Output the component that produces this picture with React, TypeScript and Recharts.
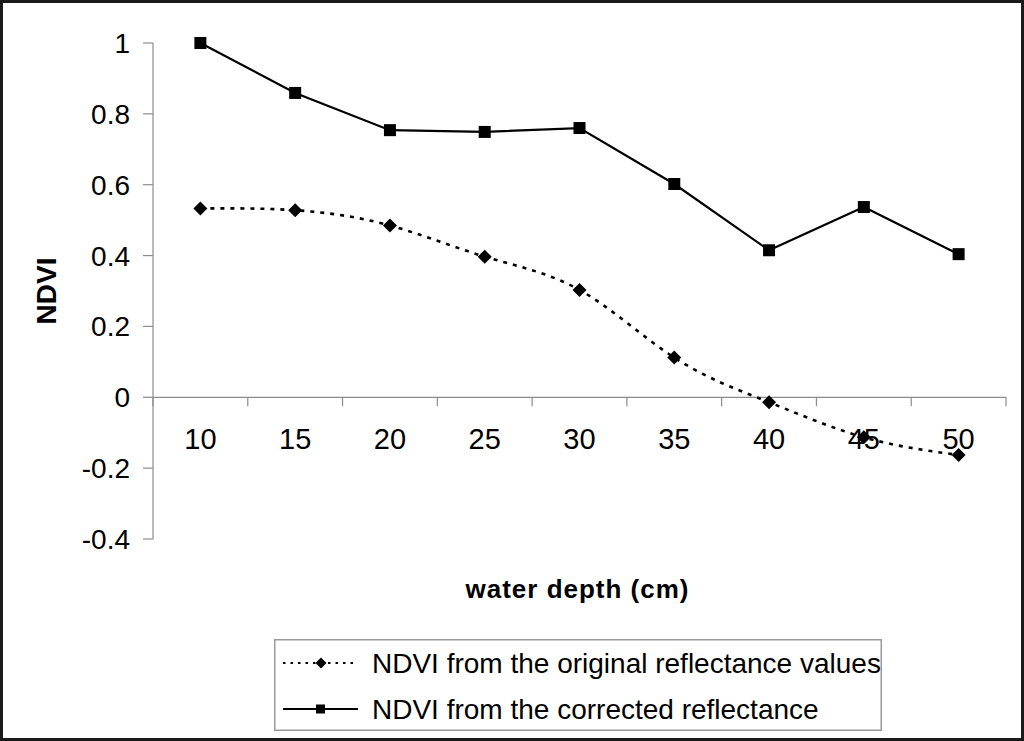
import React from 'react';
import { LineChart, Line, XAxis, YAxis, ReferenceLine, Legend } from 'recharts';

// ---- data ----
const depths = [10, 15, 20, 25, 30, 35, 40, 45, 50];
const ndviOriginal = [0.533, 0.528, 0.485, 0.397, 0.303, 0.112, -0.014, -0.113, -0.163];
const ndviCorrected = [1.0, 0.859, 0.754, 0.749, 0.76, 0.602, 0.415, 0.537, 0.404];
const yTicks = [-0.4, -0.2, 0, 0.2, 0.4, 0.6, 0.8, 1];
const seriesNames = ['NDVI from the original reflectance values', 'NDVI from the corrected reflectance'];
const xTitle = 'water depth (cm)';
const yTitle = 'NDVI';

const data = depths.map((d, i) => ({ depth: String(d), original: ndviOriginal[i], corrected: ndviCorrected[i] }));

// ---- layout ----
const W = 1024;
const H = 741;
const M = { top: 43, right: 18, bottom: 0, left: 0 };
const Y_AXIS_W = 153;
const X_AXIS_H = 202;
const PLOT_LEFT = M.left + Y_AXIS_W;
const PLOT_W = W - PLOT_LEFT - M.right;
const PLOT_H = H - M.top - X_AXIS_H;
const Y_MIN = -0.4;
const Y_MAX = 1;
const ZERO_Y = M.top + (PLOT_H * (Y_MAX - 0)) / (Y_MAX - Y_MIN);
const BAND = PLOT_W / depths.length;
const AXIS = '#8c8c8c';
const FONT = '"Liberation Sans", Arial, sans-serif';

const LEG = { left: 274, top: 639, width: 608, height: 92 };

const XTick = (props: any) => {
  const { x, payload, index } = props;
  const half = BAND / 2;
  return (
    <g>
      <line x1={x - half} x2={x - half} y1={ZERO_Y} y2={ZERO_Y + 9} stroke={AXIS} strokeWidth={1.2} />
      {index === depths.length - 1 && (
        <line x1={x + half} x2={x + half} y1={ZERO_Y} y2={ZERO_Y + 9} stroke={AXIS} strokeWidth={1.2} />
      )}
      <text x={x} y={ZERO_Y + 52} textAnchor="middle" fontSize={29} fill="#000" fontFamily={FONT}>
        {payload.value}
      </text>
    </g>
  );
};

const Diamond = (p: any) => {
  const { cx, cy } = p;
  if (cx == null || cy == null) return null;
  const r = 7;
  return <polygon key={p.key} points={`${cx},${cy - r} ${cx + r},${cy} ${cx},${cy + r} ${cx - r},${cy}`} fill="#000" />;
};

const Square = (p: any) => {
  const { cx, cy } = p;
  if (cx == null || cy == null) return null;
  const r = 6;
  return <rect key={p.key} x={cx - r} y={cy - r} width={2 * r} height={2 * r} fill="#000" />;
};

const LegendBox = () => {
  return (
    <svg width={LEG.width} height={LEG.height} style={{ display: 'block' }}>
      <rect x={0.75} y={0.75} width={LEG.width - 1.5} height={LEG.height - 1.5} fill="#fff" stroke="#9a9a9a" strokeWidth={1.5} />
      {seriesNames.map((name: string, i: number) => {
        const cy = 24 + i * 46;
        const dotted = i === 0;
        return (
          <g key={name}>
            <line x1={9} x2={84} y1={cy} y2={cy} stroke="#000" strokeWidth={2} strokeDasharray={dotted ? '2.5 5' : undefined} />
            {dotted ? (
              <polygon points={`47,${cy - 5.5} 52.5,${cy} 47,${cy + 5.5} 41.5,${cy}`} fill="#000" />
            ) : (
              <rect x={42} y={cy - 4.5} width={9} height={9} fill="#000" />
            )}
            <text x={98} y={cy + 9.5} fontSize={28} fill="#000" fontFamily={FONT}>
              {name}
            </text>
          </g>
        );
      })}
    </svg>
  );
};

const fmt = (v: number) => String(Number(v.toFixed(1)));

export default function App() {
  return (
    <div style={{ position: 'absolute', left: 0, top: 0, width: W, height: H, background: '#fff', fontFamily: FONT }}>
      <LineChart width={W} height={H} data={data} margin={M}>
        <XAxis
          dataKey="depth"
          type="category"
          scale="band"
          height={X_AXIS_H}
          axisLine={false}
          tickLine={false}
          interval={0}
          tick={<XTick />}
        />
        <YAxis
          type="number"
          domain={[Y_MIN, Y_MAX]}
          ticks={yTicks}
          interval={0}
          width={Y_AXIS_W}
          tickFormatter={fmt}
          tickSize={10}
          tickMargin={13}
          axisLine={{ stroke: AXIS, strokeWidth: 1.2 }}
          tickLine={{ stroke: AXIS, strokeWidth: 1.2 }}
          tick={{ fontSize: 28, fill: '#000', fontFamily: FONT }}
        />
        <ReferenceLine y={0} stroke={AXIS} strokeWidth={1.2} />
        <Line
          name={seriesNames[0]}
          dataKey="original"
          type="natural"
          stroke="#000"
          strokeWidth={2.6}
          strokeDasharray="4 6"
          dot={<Diamond />}
          isAnimationActive={false}
        />
        <Line
          name={seriesNames[1]}
          dataKey="corrected"
          type="linear"
          stroke="#000"
          strokeWidth={2.2}
          dot={<Square />}
          isAnimationActive={false}
        />
        <Legend
          layout="horizontal"
          verticalAlign="middle"
          align="center"
          content={<LegendBox />}
          wrapperStyle={{ left: LEG.left, top: LEG.top, width: LEG.width, height: LEG.height }}
        />
        <text
          x={46}
          y={M.top + PLOT_H / 2}
          transform={`rotate(-90, 46, ${M.top + PLOT_H / 2})`}
          textAnchor="middle"
          dominantBaseline="central"
          fontSize={28}
          fontWeight="bold"
          fill="#000"
          fontFamily={FONT}
        >
          {yTitle}
        </text>
        <text
          x={PLOT_LEFT + PLOT_W / 2 - 2}
          y={598}
          textAnchor="middle"
          fontSize={26}
          fontWeight="bold"
          letterSpacing={1}
          fill="#000"
          fontFamily={FONT}
        >
          {xTitle}
        </text>
      </LineChart>
      <div
        style={{
          position: 'absolute',
          left: 0,
          top: 0,
          width: W,
          height: H,
          boxSizing: 'border-box',
          border: '3px solid #1a1a1a',
          pointerEvents: 'none',
        }}
      />
    </div>
  );
}
